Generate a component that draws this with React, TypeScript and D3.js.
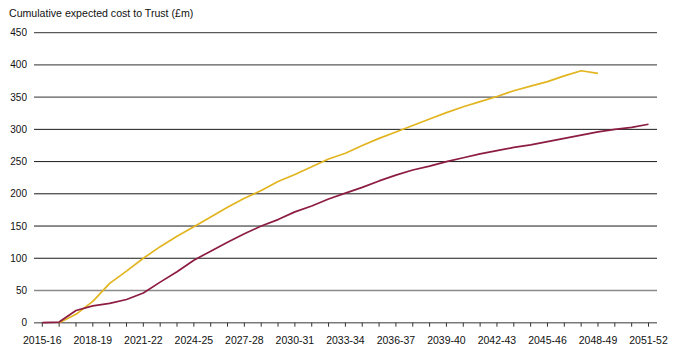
import React from "react";
import * as d3 from "d3";

const years: string[] = Array.from({ length: 37 }, (_, i) => {
  const a = 2015 + i;
  const b = (a + 1) % 100;
  return `${a}-${b.toString().padStart(2, "0")}`;
});

const tickLabels: string[] = [
  "2015-16", "2018-19", "2021-22", "2024-25", "2027-28", "2030-31",
  "2033-34", "2036-37", "2039-40", "2042-43", "2045-46", "2048-49", "2051-52",
];

const yTicks: number[] = [0, 50, 100, 150, 200, 250, 300, 350, 400, 450];

// Yellow series starts 2016-17, ends 2048-49
const yellowStart = 1;
const yellowValues: number[] = [
  0, 13, 33, 61, 80, 100, 118, 134, 149, 164, 179, 193, 205, 219, 230, 242,
  254, 263, 275, 286, 296, 306, 316, 326, 335, 343, 351, 360, 367, 374, 383, 391, 387,
];

// Red series 2015-16 to 2051-52
const redStart = 0;
const redValues: number[] = [
  0, 1, 19, 26, 30, 36, 46, 63, 79, 97, 111, 125, 138, 150, 160, 172, 181, 192,
  201, 210, 220, 229, 237, 243, 250, 256, 262, 267, 272, 276, 281, 286, 291, 296, 300, 303, 308,
];

const title = "Cumulative expected cost to Trust (£m)";

const W = 678;
const H = 356;
const font = "'Liberation Sans', Arial, Helvetica, sans-serif";

export default function App() {
  const x = d3.scalePoint<string>().domain(years).range([42.3, 648.5]);
  const y = d3.scaleLinear().domain([0, 450]).range([322.7, 32.7]);

  const line = d3
    .line<[string, number]>()
    .x((d) => x(d[0]) as number)
    .y((d) => y(d[1]));

  const yellowData: [string, number][] = yellowValues.map((v, i) => [years[i + yellowStart], v]);
  const redData: [string, number][] = redValues.map((v, i) => [years[i + redStart], v]);

  const gridStyle = (t: number) => {
    if (t === 0) return { stroke: "#7a7a7a", width: 1.6 };
    if (t === 50) return { stroke: "#8a8a8a", width: 1.6 };
    if (t >= 350) return { stroke: "#5a5a5a", width: 1.2 };
    return { stroke: "#1a1a1a", width: 1 };
  };

  return (
    <svg
      width={W}
      height={H}
      style={{ position: "absolute", left: 0, top: 0, background: "#fff" }}
    >
      <text x={9} y={16.5} fontFamily={font} fontSize={10.6} fill="#111">
        {title}
      </text>
      {yTicks.map((t) => {
        const s = gridStyle(t);
        return (
          <g key={t}>
            <line x1={34} x2={657} y1={y(t)} y2={y(t)} stroke={s.stroke} strokeWidth={s.width} />
            <text
              x={27}
              y={y(t)}
              dy="0.35em"
              textAnchor="end"
              fontFamily={font}
              fontSize={10}
              fill="#111"
            >
              {t}
            </text>
          </g>
        );
      })}
      {years.map((yr) => (
        <line
          key={yr}
          x1={x(yr)}
          x2={x(yr)}
          y1={y(0)}
          y2={y(0) + 4}
          stroke="#333"
          strokeWidth={1}
        />
      ))}
      {tickLabels.map((lbl) => (
        <text
          key={lbl}
          x={x(lbl)}
          y={344}
          textAnchor="middle"
          fontFamily={font}
          fontSize={10.5}
          fill="#111"
        >
          {lbl}
        </text>
      ))}
      <path d={line(yellowData) || ""} fill="none" stroke="#E2B520" strokeWidth={1.7} strokeLinejoin="round" />
      <path d={line(redData) || ""} fill="none" stroke="#8C1D40" strokeWidth={1.7} strokeLinejoin="round" />
    </svg>
  );
}
